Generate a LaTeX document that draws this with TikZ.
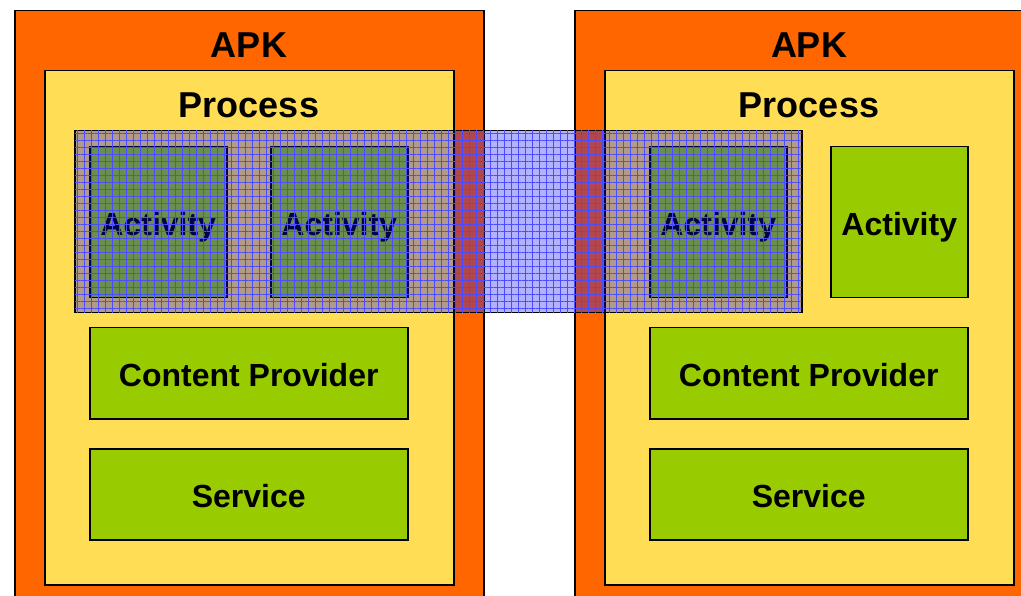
\documentclass[tikz,border=0pt]{standalone}
\usepackage{fontspec}
\setmainfont{Liberation Sans}
\usetikzlibrary{patterns.meta}

\definecolor{apkorange}{HTML}{FF6600}
\definecolor{procyellow}{HTML}{FFDD55}
\definecolor{compgreen}{HTML}{99CC00}

\tikzset{
  box/.style={rectangle, draw=black, line width=1.5pt, anchor=north west, inner sep=0pt},
  apk/.style={box, fill=apkorange, minimum width=469pt, minimum height=620pt},
  proc/.style={box, fill=procyellow, minimum width=409pt, minimum height=514pt},
  comp/.style={box, fill=compgreen, font=\bfseries\fontsize{32}{36}\selectfont,
    text height=26pt, text depth=0pt},
  actbox/.style={comp, minimum width=137pt, minimum height=151pt},
  widebox/.style={comp, minimum width=318pt, minimum height=91pt},
  title/.style={font=\bfseries\fontsize{36}{40}\selectfont, inner sep=0pt},
  taskbox/.style={box, fill=blue, fill opacity=0.3,
    minimum width=727pt, minimum height=182pt,
    postaction={pattern={Lines[angle=0, distance=7pt, line width=1pt]}, pattern color=blue!70},
    postaction={pattern={Lines[angle=90, distance=7pt, line width=1pt]}, pattern color=blue!70}},
}

\begin{document}
\begin{tikzpicture}[x=1pt, y=-1pt]
  \clip (0,0) rectangle (1021,596);

  % Left package
  \node[apk] (apkL) at (14,10) {};
  \node[proc] (procL) at (44,70) {};
  \node[title] (apkLtext) at (249,45) {APK};
  \node[title] (procLtext) at (249,105) {Process};
  \node[actbox] (actLa) at (89,146) {Activity};
  \node[actbox] (actLb) at (270,146) {Activity};
  \node[widebox] (cpL) at (89,327) {Content Provider};
  \node[widebox] (svcL) at (89,448) {Service};

  % Right package
  \node[apk] (apkR) at (574,10) {};
  \node[proc] (procR) at (604,70) {};
  \node[title] (apkRtext) at (809,45) {APK};
  \node[title] (procRtext) at (809,105) {Process};
  \node[actbox] (actRa) at (649,146) {Activity};
  \node[actbox] (actRb) at (830,146) {Activity};
  \node[widebox] (cpR) at (649,327) {Content Provider};
  \node[widebox] (svcR) at (649,448) {Service};

  % Task spanning both packages
  \node[taskbox] (task) at (74,130) {};
\end{tikzpicture}
\end{document}
